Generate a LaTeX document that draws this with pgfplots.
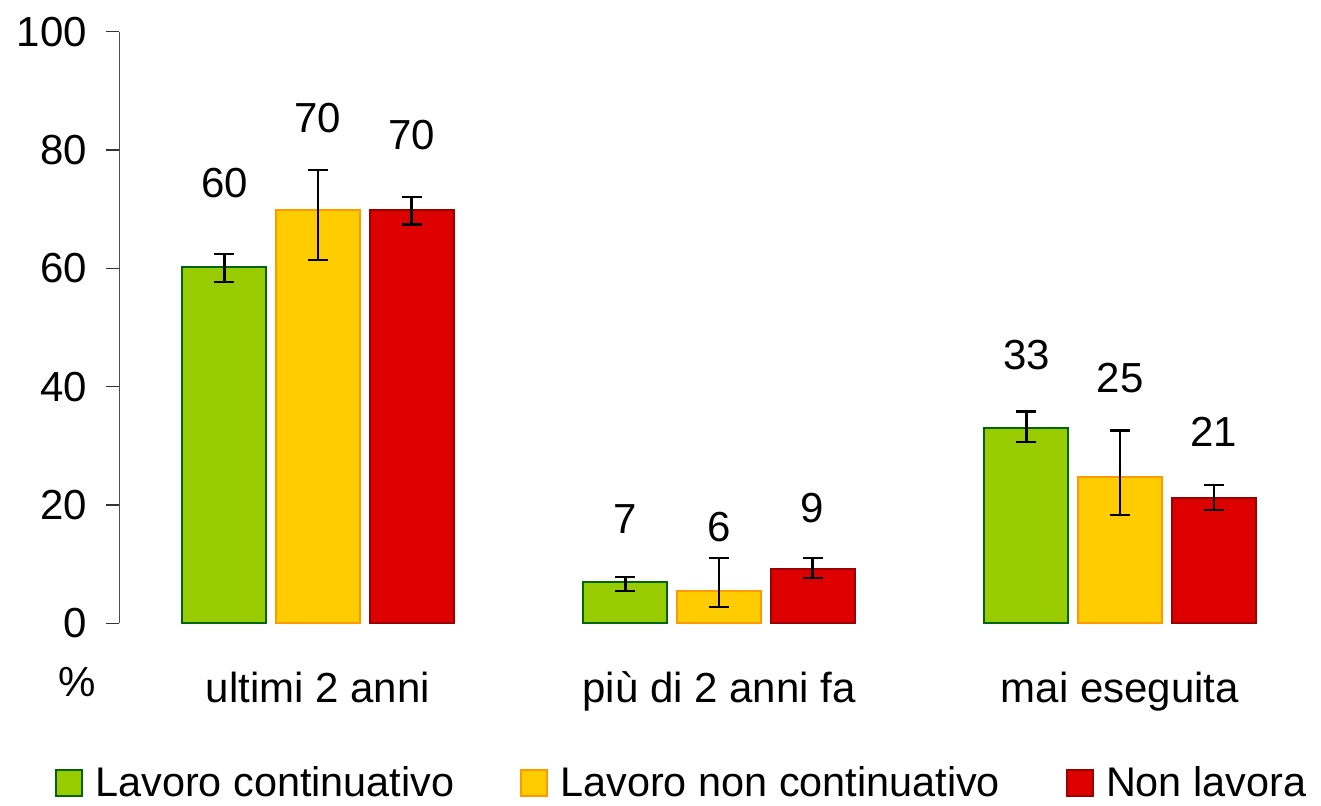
\documentclass[border=0pt]{standalone}
\usepackage{fontspec}
\setmainfont{Liberation Sans}
\usepackage{pgfplots}
\pgfplotsset{compat=1.18}
\definecolor{gfill}{HTML}{99CC00}
\definecolor{gdraw}{HTML}{006600}
\definecolor{yfill}{HTML}{FFCC00}
\definecolor{ydraw}{HTML}{FF9900}
\definecolor{rfill}{HTML}{DD0000}
\definecolor{rdraw}{HTML}{990000}
\newcommand{\ff}{\fontsize{21bp}{25bp}\selectfont}
\newcommand{\lf}{\fontsize{20.7bp}{24bp}\selectfont}
\begin{document}
\begin{tikzpicture}[font=\ff]
\begin{axis}[
  scale only axis,
  width=600.8bp, height=295.8bp,
  xmin=-0.4955, xmax=2.501,
  ymin=0, ymax=100,
  ytick={0,20,40,60,80,100},
  xtick={0,1,2},
  xticklabels={ultimi 2 anni, più di 2 anni fa, mai eseguita},
  axis lines*=left,
  x axis line style={draw=none},
  y axis line style={draw=black!70, line width=0.7bp},
  xtick style={draw=none},
  ytick style={draw=black!80, line width=0.7bp},
  tick align=outside,
  major tick length=6.5bp,
  /pgf/number format/assume math mode=true,
  tick label style={font=\ff},
  yticklabel style={anchor=east, inner sep=0pt, xshift=-9.5bp},
  xticklabel style={anchor=base, inner sep=0pt, yshift=-32.9bp},
  legend style={font=\lf, at={(axis description cs:-0.0535,-0.2706)}, anchor=west,
    draw=none, fill=none, inner sep=0pt, legend columns=3,
    nodes={inner sep=0pt},
    /tikz/every odd column/.append style={column sep=6bp},
    /tikz/every even column/.append style={column sep=33bp}},
  legend image code/.code={\draw[#1, line width=1bp] (0bp,-6.5bp) rectangle (13bp,6.5bp);},
  clip=false,
  every axis plot/.append style={
    error bars/error bar style={black, line width=1.1bp},
    error bars/error mark options={black, line width=1.1bp, mark size=5bp, rotate=90}},
]
\addplot[ybar, bar width=42bp, bar shift=0bp, fill=gfill, draw=gdraw, line width=1bp,
  error bars/.cd, y dir=both, y explicit]
coordinates {(-0.2334,60.2) += (0,2.2) -= (0,2.5)
             (0.7666,6.9) += (0,0.9) -= (0,1.5)
             (1.7666,33.0) += (0,2.8) -= (0,2.4)};
\addlegendentry{Lavoro continuativo}
\addplot[ybar, bar width=42bp, bar shift=0bp, fill=yfill, draw=ydraw, line width=1bp,
  error bars/.cd, y dir=both, y explicit]
coordinates {(0,69.9) += (0,6.7) -= (0,8.5)
             (1,5.5) += (0,5.5) -= (0,2.8)
             (2,24.8) += (0,7.8) -= (0,6.5)};
\addlegendentry{Lavoro non continuativo}
\addplot[ybar, bar width=42bp, bar shift=0bp, fill=rfill, draw=rdraw, line width=1bp,
  error bars/.cd, y dir=both, y explicit]
coordinates {(0.2334,69.9) += (0,2.1) -= (0,2.5)
             (1.2334,9.2) += (0,1.8) -= (0,1.5)
             (2.2334,21.1) += (0,2.3) -= (0,2.0)};
\addlegendentry{Non lavora}
\addplot[draw=none, mark=none, forget plot, nodes near coords, point meta=explicit symbolic,
  nodes near coords style={anchor=center, inner sep=0pt, font=\ff, black}]
coordinates {(-0.2334,74.4)[60] (0,85.4)[70] (0.2334,82.5)[70]
             (0.7666,17.7)[7] (1,16.3)[6] (1.2334,19.5)[9]
             (1.7666,45.4)[33] (2,41.4)[25] (2.2334,32.4)[21]};
\end{axis}
\node[anchor=base, inner sep=0pt] at (-21.2bp,-36.8bp) {\%};
\pgfresetboundingbox
\path[use as bounding box] (-59.65bp,-91.35bp) rectangle (600.85bp,311.65bp);
\end{tikzpicture}
\end{document}
